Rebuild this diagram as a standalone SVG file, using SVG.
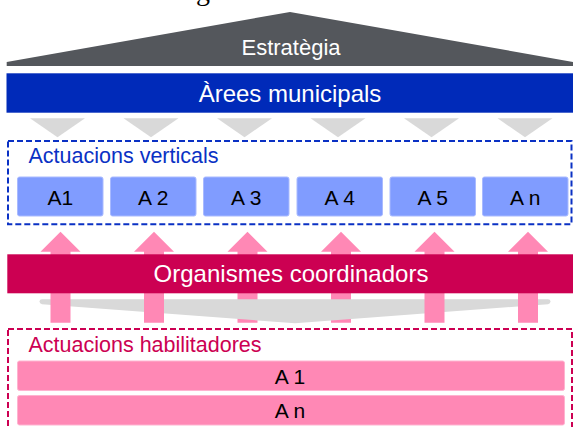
<svg xmlns="http://www.w3.org/2000/svg" width="573" height="427" viewBox="0 0 573 427">
<style>
text{font-family:"Liberation Sans",Arial,sans-serif}
.w{fill:#fff;text-anchor:middle}
.k{fill:#000;font-size:21px;text-anchor:middle}
.chev{fill:#d9d9d9}
.vbox{fill:#809cff;stroke:#a9baff;stroke-width:1}
.pbox{fill:#ff88b5;stroke:#ffb3d0;stroke-width:1}
.arr{fill:#ff88b5}
</style>
<defs>
<path id="arrow" d="M-20,251.7 L0,231.7 L20,251.7 L10,251.7 L10,322.7 L-10,322.7 L-10,251.7 Z"/>
</defs>
<rect width="573" height="427" fill="#fff"/>
<text x="196" y="-0.5" style="font-family:'Liberation Serif',serif;font-size:28px">g</text>

<g id="estrategia">
<polygon points="6.7,62 290,12 573,62 573,66 6.7,66" fill="#54575c"/>
<text x="291" y="54.5" class="w" font-size="22">Estratègia</text>
</g>

<g id="arees">
<rect x="6.5" y="73.3" width="566.5" height="39.4" fill="#002ab9"/>
<text x="290" y="101.5" class="w" font-size="24">Àrees municipals</text>
</g>

<g id="connectors-down">
<polygon class="chev" points="30,118.3 85,118.3 57.5,137.3"/>
<polygon class="chev" points="123.5,118.3 178.5,118.3 151,137.3"/>
<polygon class="chev" points="217,118.3 272,118.3 244.5,137.3"/>
<polygon class="chev" points="310.5,118.3 365.5,118.3 338,137.3"/>
<polygon class="chev" points="404,118.3 459,118.3 431.5,137.3"/>
<polygon class="chev" points="497.5,118.3 552.5,118.3 525,137.3"/>
</g>

<g id="actuacions-verticals">
<rect x="8" y="141" width="563.5" height="83.3" fill="none" stroke="#0a31c4" stroke-width="2" stroke-dasharray="6 3"/>
<text x="28.5" y="163.3" fill="#0a31c4" font-size="21.5">Actuacions verticals</text>
</g>
<g id="v-a1"><rect class="vbox" x="17.5" y="177" width="85.5" height="39" rx="2"/><text class="k" x="60.3" y="205">A1</text></g>
<g id="v-a2"><rect class="vbox" x="110.5" y="177" width="85.5" height="39" rx="2"/><text class="k" x="153.3" y="205">A 2</text></g>
<g id="v-a3"><rect class="vbox" x="203.5" y="177" width="85.5" height="39" rx="2"/><text class="k" x="246.3" y="205">A 3</text></g>
<g id="v-a4"><rect class="vbox" x="297" y="177" width="85.5" height="39" rx="2"/><text class="k" x="339.7" y="205">A 4</text></g>
<g id="v-a5"><rect class="vbox" x="390" y="177" width="85.5" height="39" rx="2"/><text class="k" x="432.7" y="205">A 5</text></g>
<g id="v-an"><rect class="vbox" x="482.5" y="177" width="85.5" height="39" rx="2"/><text class="k" x="525.3" y="205">A n</text></g>

<g id="connectors-up-inner">
<use href="#arrow" class="arr" x="247.5"/>
<use href="#arrow" class="arr" x="341"/>
</g>

<g id="connector-wedge">
<path d="M42,299.3 L548,299.3 Q550.5,299.3 550.5,301.6 Q550.5,304 548,304.2 L295,323.3 L42,304.2 Q39.5,304 39.5,301.6 Q39.5,299.3 42,299.3 Z" fill="#d9d9d9"/>
</g>

<g id="connectors-up-outer">
<use href="#arrow" class="arr" x="60.5"/>
<use href="#arrow" class="arr" x="154"/>
<use href="#arrow" class="arr" x="434.5"/>
<use href="#arrow" class="arr" x="528"/>
</g>

<g id="organismes">
<rect x="7.3" y="254.3" width="565.7" height="39" fill="#cc0052"/>
<text x="291" y="282" class="w" font-size="24">Organismes coordinadors</text>
</g>

<g id="actuacions-habilitadores">
<rect x="8" y="329" width="564" height="110" fill="none" stroke="#cc0052" stroke-width="2" stroke-dasharray="6 3"/>
<text x="28.5" y="352.3" fill="#cc0052" font-size="21.5">Actuacions habilitadores</text>
</g>
<g id="h-a1"><rect class="pbox" x="17.5" y="361" width="547" height="29.5" rx="2"/><text class="k" x="290" y="384.3">A 1</text></g>
<g id="h-an"><rect class="pbox" x="17.5" y="395.5" width="547" height="29.5" rx="2"/><text class="k" x="290" y="418.3">A n</text></g>
</svg>
